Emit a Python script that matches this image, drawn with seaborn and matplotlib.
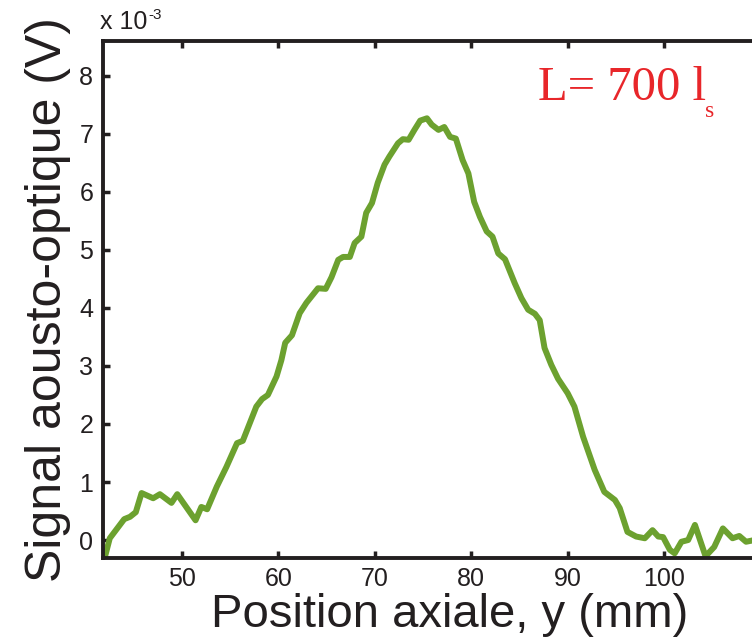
import matplotlib

matplotlib.use("Agg")
import matplotlib.pyplot as plt
import pandas as pd
import seaborn as sns

# ---------------------------------------------------
# Data (signal in units of 1e-3 V)
# ---------------------------------------------------
position_mm = [
    42.0, 42.5, 44.0, 44.6, 45.2, 45.8, 47.0, 47.7, 48.9, 49.5,
    51.4, 52.0, 52.6, 53.6, 54.6, 55.7, 56.3, 57.7, 58.3, 58.9,
    59.8, 60.3, 60.7, 61.4, 62.2, 62.9, 64.1, 64.9, 65.5, 66.2,
    66.7, 67.4, 67.9, 68.6, 69.1, 69.7, 70.3, 71.0, 71.5, 72.4,
    72.9, 73.5, 74.1, 74.7, 75.4, 75.9, 76.6, 77.2, 77.8, 78.4,
    79.1, 79.7, 80.3, 80.9, 81.6, 82.2, 82.8, 83.5, 84.5, 85.2,
    85.9, 86.6, 87.1, 87.6, 88.3, 89.0, 90.0, 90.7, 91.6, 92.8,
    93.8, 94.9, 95.4, 96.2, 97.1, 98.0, 98.8, 99.4, 99.9, 100.6,
    101.1, 101.8, 102.5, 103.2, 104.3, 105.2, 106.1, 107.1, 107.8, 108.5,
    109.1, 109.8,
]
signal_e3 = [
    -0.29, 0.03, 0.36, 0.40, 0.48, 0.81, 0.72, 0.79, 0.64, 0.79,
    0.34, 0.57, 0.53, 0.92, 1.26, 1.67, 1.71, 2.30, 2.43, 2.50,
    2.82, 3.10, 3.40, 3.53, 3.91, 4.09, 4.34, 4.33, 4.53, 4.83,
    4.88, 4.88, 5.12, 5.23, 5.64, 5.81, 6.16, 6.47, 6.61, 6.84,
    6.91, 6.90, 7.07, 7.23, 7.27, 7.16, 7.07, 7.12, 6.95, 6.92,
    6.55, 6.32, 5.83, 5.57, 5.32, 5.23, 4.94, 4.84, 4.43, 4.17,
    3.97, 3.90, 3.79, 3.31, 3.02, 2.78, 2.53, 2.30, 1.78, 1.21,
    0.83, 0.69, 0.55, 0.14, 0.06, 0.03, 0.17, 0.06, 0.05, -0.17,
    -0.23, -0.03, 0.00, 0.26, -0.28, -0.12, 0.20, 0.03, 0.07, -0.03,
    -0.01, 0.02,
]

x_ticks = [50, 60, 70, 80, 90, 100]
y_ticks = [0, 1, 2, 3, 4, 5, 6, 7, 8]

LINE_COLOR = "#6ca12f"
TEXT_RED = "#e8262a"
INK = "#231f20"

df = pd.DataFrame({"position": position_mm, "signal": signal_e3})

# ---------------------------------------------------
# Plot
# ---------------------------------------------------
sns.set_style("ticks")
plt.rcParams["font.family"] = ["Liberation Sans", "DejaVu Sans"]

fig = plt.figure(figsize=(7.52, 6.44), dpi=100)
# axes runs past the right edge of the figure (the original is cropped)
ax = fig.add_axes([0.137, 0.134, 0.923, 0.803])

sns.lineplot(data=df, x="position", y="signal", color=LINE_COLOR,
             linewidth=4.3, ax=ax)

ax.set_xlim(41.8, 113.8)
ax.set_ylim(-0.305, 8.61)
ax.set_xticks(x_ticks)
ax.set_yticks(y_ticks)

for side in ["left", "bottom", "top", "right"]:
    ax.spines[side].set_linewidth(2.8)
    ax.spines[side].set_color(INK)

ax.tick_params(direction="in", top=True, length=5, width=2.5,
               labelsize=18, pad=7, colors=INK)

ax.set_xlabel("Position axiale, y (mm)", fontsize=34, labelpad=1, color=INK)
ax.set_ylabel("Signal aousto-optique (V)", fontsize=36, labelpad=6, color=INK)

# exponent label at top-left
fig.text(0.133, 0.955, "x 10", fontsize=18, color=INK, ha="left", va="baseline")
fig.text(0.197, 0.970, "-3", fontsize=11, color=INK, ha="left", va="baseline")

# red annotation
fig.text(0.715, 0.845, "L= 700 l", fontsize=35, color=TEXT_RED,
         family=["Liberation Serif", "DejaVu Serif"], ha="left", va="baseline")
fig.text(0.937, 0.818, "s", fontsize=17, color=TEXT_RED,
         family=["Liberation Serif", "DejaVu Serif"], ha="left", va="baseline")

fig.savefig("out.png", dpi=100)
plt.close(fig)
